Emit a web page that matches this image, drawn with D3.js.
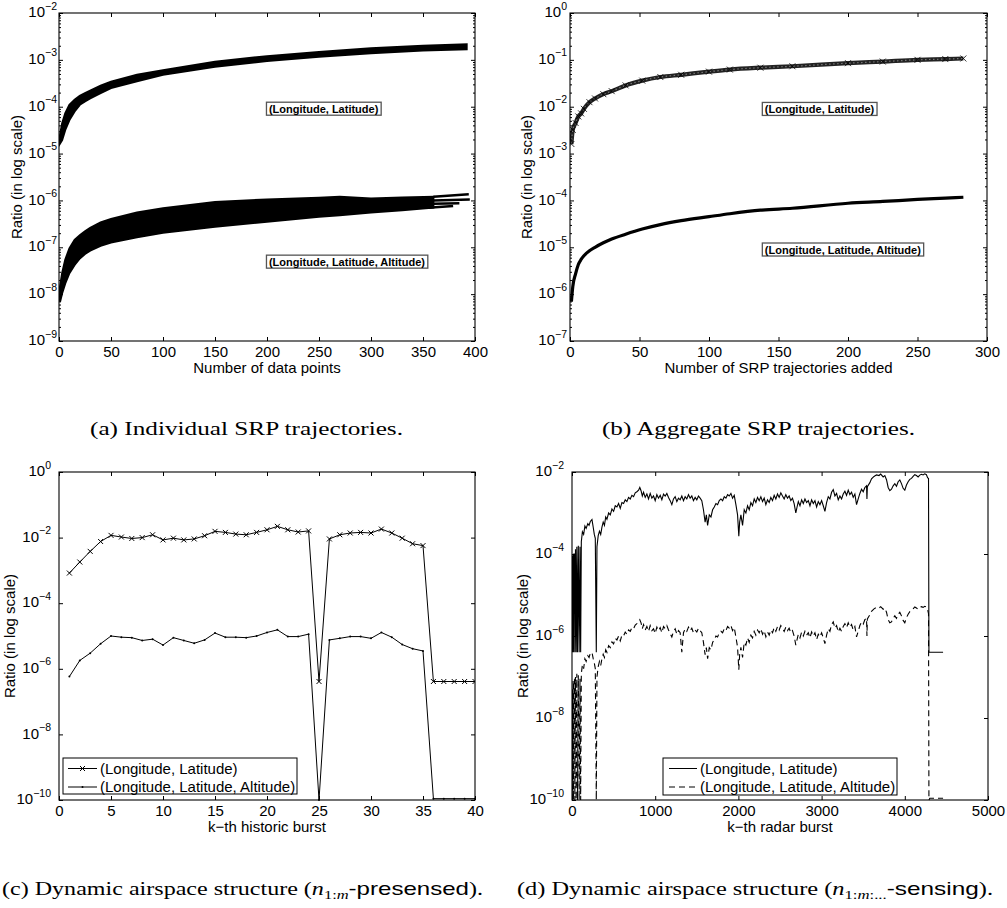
<!DOCTYPE html>
<html><head><meta charset="utf-8">
<script src="https://cdn.jsdelivr.net/npm/d3@7"></script>
<style>body{margin:0;background:#fff}</style>
</head><body>
<script>
// ---------- DATA ----------
// (a) Individual SRP trajectories: envelopes of the bundles of trajectories
const aX_LL = [1,3,6,10,15,20,25,30,40,50,75,100,150,200,250,300,350,392];
const aLL_hi = [2.5e-5,4.4e-5,7.2e-5,1.1e-4,1.4e-4,1.7e-4,1.95e-4,2.2e-4,2.8e-4,3.4e-4,4.8e-4,6e-4,9.1e-4,1.2e-3,1.48e-3,1.77e-3,2.0e-3,2.15e-3];
const aLL_lo = [1.65e-5,1.95e-5,3.2e-5,5.2e-5,7.9e-5,1.1e-4,1.3e-4,1.5e-4,1.95e-4,2.5e-4,3.5e-4,4.8e-4,7.1e-4,9.5e-4,1.17e-3,1.38e-3,1.58e-3,1.69e-3];
const aX_LLA = [1,3,6,10,15,20,25,30,40,50,75,100,150,200,250,270,300,330,360];
const aLLA_hi = [1.45e-8,2.8e-8,5.4e-8,9.5e-8,1.44e-7,1.8e-7,2.2e-7,2.6e-7,3.4e-7,4e-7,5.5e-7,6.8e-7,9.3e-7,1.05e-6,1.14e-6,1.2e-6,1.1e-6,1.15e-6,1.2e-6];
const aLLA_lo = [6.9e-9,1.05e-8,1.7e-8,2.8e-8,4.2e-8,5.8e-8,7.2e-8,8.5e-8,1.07e-7,1.26e-7,1.63e-7,2.05e-7,2.75e-7,3.5e-7,4.5e-7,4.8e-7,5.5e-7,6.2e-7,7e-7];
const aTailX = [[360,394],[360,395],[360,385],[355,379]];
const aTailY = [[1.2e-6,1.35e-6],[1.0e-6,1.05e-6],[8.5e-7,8.7e-7],[7.0e-7,7.6e-7]];
const aXTicks = [0,50,100,150,200,250,300,350,400];
const aYTicks = [1e-9,1e-8,1e-7,1e-6,1e-5,1e-4,1e-3,1e-2];

// (b) Aggregate SRP trajectories
const bX = [1,2,4,6,8,10,14,18,24,30,40,52,65,80,100,115,137,160,200,225,250,270,283];
const bLL = [1.6e-3,3.2e-3,4.5e-3,6.2e-3,7.2e-3,9e-3,1.25e-2,1.5e-2,1.85e-2,2.15e-2,2.85e-2,3.6e-2,4.3e-2,4.8e-2,5.6e-2,6.2e-2,6.8e-2,7.3e-2,8.5e-2,9.2e-2,1e-1,1.04e-1,1.07e-1];
const bLLA = [6.9e-7,1.45e-6,2.7e-6,4.3e-6,5.5e-6,6.6e-6,8.4e-6,1.0e-5,1.25e-5,1.5e-5,1.9e-5,2.45e-5,3.05e-5,3.7e-5,4.5e-5,5.2e-5,6.2e-5,6.8e-5,8.7e-5,9.5e-5,1.05e-4,1.12e-4,1.17e-4];
const bXTicks = [0,50,100,150,200,250,300];
const bYTicks = [1e-7,1e-6,1e-5,1e-4,1e-3,1e-2,1e-1,1];

// (c) Dynamic airspace structure, k-th historic burst
const cK = [1,2,3,4,5,6,7,8,9,10,11,12,13,14,15,16,17,18,19,20,21,22,23,24,25,26,27,28,29,30,31,32,33,34,35,36,37,38,39,40];
const cLL = [8.3e-4,1.8e-3,3.8e-3,7.6e-3,1.17e-2,1.04e-2,9.4e-3,1e-2,1.22e-2,8.5e-3,9.6e-3,8.5e-3,9.1e-3,1.14e-2,1.55e-2,1.44e-2,1.28e-2,1.22e-2,1.44e-2,1.73e-2,2.2e-2,1.73e-2,1.48e-2,1.6e-2,4.1e-7,9.1e-3,1.22e-2,1.38e-2,1.44e-2,1.38e-2,1.82e-2,1.38e-2,9.6e-3,6.5e-3,5.7e-3,4.1e-7,4.1e-7,4.1e-7,4.1e-7,4.1e-7];
const cLLA = [5.8e-7,1.8e-6,3e-6,5.8e-6,1e-5,9.2e-6,8.9e-6,7.3e-6,8e-6,5.3e-6,8.9e-6,7.3e-6,6e-6,7.6e-6,1.23e-5,9.2e-6,9.2e-6,8.9e-6,1e-5,1.28e-5,1.54e-5,9.6e-6,9.6e-6,1.14e-5,1e-10,7.6e-6,8.5e-6,9.6e-6,9.6e-6,8.5e-6,1.28e-5,9.2e-6,5.5e-6,4.1e-6,3.5e-6,1.1e-10,1.1e-10,1.1e-10,1.1e-10,1.1e-10];
const cXTicks = [0,5,10,15,20,25,30,35,40];
const cYTicks = [1e-10,1e-8,1e-6,1e-4,1e-2,1];

// (d) Dynamic airspace structure, k-th radar burst  [k, ratio]
const dLL = [[1,4e-7],[5,9e-5],[9,4e-7],[13,1e-4],[17,4e-7],[22,1e-4],[30,1e-4],[34,4e-7],[42,1.3e-4],[50,4e-7],[58,1.5e-4],[66,4e-7],[76,1.6e-4],[86,4e-7],[96,1.5e-4],[104,4e-7],[112,2e-4],
[125,3.5e-4],[140,3e-4],[155,4.8e-4],[170,4.2e-4],[190,5.5e-4],[205,5e-4],[220,6.2e-4],[240,6.9e-4],[255,4.5e-4],[268,3e-4],[280,2.4e-4],[292,4e-7],[300,1.5e-4],[315,2.8e-4],[330,3.6e-4],[345,3e-4],[360,4.5e-4],[375,6e-4],[390,5e-4],[405,8e-4],[420,7e-4],[440,1e-3],[460,9e-4],[480,1.25e-3],[500,1.1e-3],[520,1.5e-3],[540,1.4e-3],[560,1.7e-3],[580,1.3e-3],[600,1.8e-3],[620,1.7e-3],[640,2.1e-3],[660,1.9e-3],[680,2.4e-3],[700,2.2e-3],[720,2.7e-3],[740,2.5e-3],[760,3.1e-3],[780,3.3e-3],[800,3.6e-3],[815,4.2e-3],[830,3.5e-3],[845,2.6e-3],[860,3.2e-3],[880,2.4e-3],[900,2.9e-3],[920,2.2e-3],[940,3.0e-3],[960,2.3e-3],[980,2.6e-3],[1000,2.0e-3],[1020,2.8e-3],[1040,2.3e-3],[1060,2.7e-3],[1080,2.1e-3],[1100,2.9e-3],[1120,2.6e-3],[1140,3.0e-3],[1160,2.4e-3],[1180,2.0e-3],[1200,1.6e-3],[1220,2.2e-3],[1240,2.5e-3],[1260,1.9e-3],[1280,2.3e-3],[1300,2.1e-3],[1320,2.6e-3],[1340,2.0e-3],[1360,2.5e-3],[1380,2.2e-3],[1400,2.8e-3],[1420,2.3e-3],[1440,2.6e-3],[1460,2.0e-3],[1480,2.4e-3],[1500,2.1e-3],[1520,2.6e-3],[1540,2.3e-3],[1560,2.0e-3],[1580,1.2e-3],[1600,6e-4],[1615,9e-4],[1630,5e-4],[1650,9e-4],[1670,8e-4],[1690,1.2e-3],[1710,1.4e-3],[1730,1.7e-3],[1750,1.6e-3],[1770,2.0e-3],[1790,2.2e-3],[1810,2.0e-3],[1830,2.5e-3],[1850,2.3e-3],[1870,2.8e-3],[1890,2.6e-3],[1910,3.0e-3],[1930,2.3e-3],[1950,2.7e-3],[1970,1.6e-3],[1990,9e-4],[2005,2.7e-4],[2015,6e-4],[2030,9e-4],[2050,5e-4],[2070,1.2e-3],[2090,1.0e-3],[2110,1.5e-3],[2130,1.2e-3],[2150,1.8e-3],[2170,1.5e-3],[2190,2.2e-3],[2210,1.8e-3],[2230,2.4e-3],[2250,2.0e-3],[2270,2.5e-3],[2290,1.9e-3],[2310,2.3e-3],[2330,1.6e-3],[2350,2.1e-3],[2370,1.8e-3],[2390,2.4e-3],[2410,2.0e-3],[2430,2.7e-3],[2450,2.2e-3],[2470,2.9e-3],[2490,2.4e-3],[2510,3.1e-3],[2530,2.6e-3],[2550,2.2e-3],[2570,2.8e-3],[2590,2.3e-3],[2610,2.6e-3],[2630,2.0e-3],[2650,2.3e-3],[2670,1.7e-3],[2690,1.0e-3],[2705,1.4e-3],[2720,1.9e-3],[2740,1.5e-3],[2760,2.1e-3],[2780,1.7e-3],[2800,2.2e-3],[2820,1.8e-3],[2840,2.0e-3],[2860,1.5e-3],[2880,2.1e-3],[2900,1.7e-3],[2920,2.0e-3],[2940,1.4e-3],[2960,1.9e-3],[2980,1.6e-3],[3000,2.0e-3],[3020,1.5e-3],[3040,1.1e-3],[3060,1.8e-3],[3080,2.5e-3],[3100,2.2e-3],[3120,3.2e-3],[3140,3.7e-3],[3160,2.6e-3],[3180,3.0e-3],[3200,2.1e-3],[3220,2.6e-3],[3240,2.2e-3],[3260,2.9e-3],[3280,3.4e-3],[3300,2.7e-3],[3320,3.6e-3],[3340,2.8e-3],[3360,3.2e-3],[3380,2.4e-3],[3400,2.9e-3],[3420,1.6e-3],[3440,2.2e-3],[3460,3.0e-3],[3480,3.8e-3],[3500,3.3e-3],[3520,4.2e-3],[3540,4.6e-3],[3545,2.2e-3],[3550,4.4e-3],[3580,5.5e-3],[3600,6.8e-3],[3630,7.8e-3],[3660,8.5e-3],[3690,8.2e-3],[3710,8.9e-3],[3740,7.6e-3],[3760,8.2e-3],[3780,6.5e-3],[3800,4.2e-3],[3820,3.5e-3],[3840,3.8e-3],[3860,4.6e-3],[3880,5.2e-3],[3900,4.5e-3],[3920,5.8e-3],[3940,6.4e-3],[3960,5.2e-3],[3980,4.0e-3],[4000,3.6e-3],[4020,4.8e-3],[4040,5.8e-3],[4060,6.6e-3],[4080,7.0e-3],[4100,7.8e-3],[4120,8.6e-3],[4140,8.2e-3],[4160,7.6e-3],[4180,8.4e-3],[4200,8.8e-3],[4220,8.5e-3],[4240,9.0e-3],[4260,8.6e-3],[4275,7.2e-3],[4285,7.0e-3],[4290,4e-7],[4460,4e-7]];
const dLLA = [[1,1e-10],[5,5e-8],[9,1e-10],[13,8e-8],[17,1e-10],[22,6e-8],[30,9e-8],[34,1e-10],[42,1e-7],[50,1e-10],[58,1.2e-7],[66,1e-10],[76,1.1e-7],[86,1e-10],[96,9e-8],[104,1e-10],[112,1.2e-7],
[125,2e-7],[140,1.6e-7],[155,2.8e-7],[170,2.4e-7],[190,3.3e-7],[205,3e-7],[220,3.8e-7],[240,4e-7],[255,2.8e-7],[268,2.2e-7],[280,1.6e-7],[292,1e-10],[300,1e-7],[315,1.8e-7],[330,2.4e-7],[345,1.9e-7],[360,2.8e-7],[375,3.6e-7],[390,3e-7],[405,4.6e-7],[420,4e-7],[440,5.8e-7],[460,5.2e-7],[480,7.2e-7],[500,6.4e-7],[520,8.8e-7],[540,8e-7],[560,1.0e-6],[580,7.6e-7],[600,1.05e-6],[620,1.0e-6],[640,1.25e-6],[660,1.1e-6],[680,1.4e-6],[700,1.3e-6],[720,1.6e-6],[740,1.5e-6],[760,1.85e-6],[780,2.0e-6],[800,2.2e-6],[815,2.5e-6],[830,2.1e-6],[845,1.5e-6],[860,1.9e-6],[880,1.4e-6],[900,1.7e-6],[920,1.3e-6],[940,1.8e-6],[960,1.35e-6],[980,1.5e-6],[1000,1.15e-6],[1020,1.65e-6],[1040,1.35e-6],[1060,1.6e-6],[1080,1.2e-6],[1100,1.7e-6],[1120,1.5e-6],[1140,1.8e-6],[1160,1.4e-6],[1180,1.15e-6],[1200,9.5e-7],[1220,1.3e-6],[1240,1.5e-6],[1260,1.1e-6],[1280,1.35e-6],[1300,1.2e-6],[1320,4e-7],[1330,7e-7],[1340,1.2e-6],[1360,1.5e-6],[1380,1.3e-6],[1400,1.65e-6],[1420,1.35e-6],[1440,1.55e-6],[1460,1.2e-6],[1480,1.4e-6],[1500,1.25e-6],[1520,1.55e-6],[1540,1.35e-6],[1560,1.2e-6],[1580,7e-7],[1600,3.5e-7],[1615,5.2e-7],[1630,2.8e-7],[1650,5.2e-7],[1670,4.6e-7],[1690,7e-7],[1710,8.2e-7],[1730,1.0e-6],[1750,9.5e-7],[1770,1.2e-6],[1790,1.3e-6],[1810,1.2e-6],[1830,1.5e-6],[1850,1.35e-6],[1870,1.7e-6],[1890,1.55e-6],[1910,1.8e-6],[1930,1.35e-6],[1950,1.6e-6],[1970,9.5e-7],[1990,5.3e-7],[2005,1.5e-7],[2015,3.5e-7],[2030,5.3e-7],[2050,3e-7],[2070,7e-7],[2090,6e-7],[2110,9e-7],[2130,7e-7],[2150,1.05e-6],[2170,9e-7],[2190,1.3e-6],[2210,1.05e-6],[2230,1.4e-6],[2250,1.2e-6],[2270,1.5e-6],[2290,1.1e-6],[2310,1.35e-6],[2330,9.5e-7],[2350,1.25e-6],[2370,1.05e-6],[2390,1.4e-6],[2410,1.2e-6],[2430,1.6e-6],[2450,1.3e-6],[2470,1.7e-6],[2490,1.4e-6],[2510,1.8e-6],[2530,1.55e-6],[2550,1.3e-6],[2570,1.65e-6],[2590,1.35e-6],[2610,1.55e-6],[2630,1.2e-6],[2650,1.35e-6],[2670,1.0e-6],[2690,6e-7],[2705,8.2e-7],[2720,1.1e-6],[2740,9e-7],[2760,1.25e-6],[2780,1.0e-6],[2800,1.3e-6],[2820,1.05e-6],[2840,1.2e-6],[2860,9e-7],[2880,1.25e-6],[2900,1.0e-6],[2920,1.2e-6],[2940,8.2e-7],[2960,1.1e-6],[2980,9.5e-7],[3000,1.2e-6],[3020,9e-7],[3040,6.5e-7],[3060,1.05e-6],[3080,1.5e-6],[3100,1.3e-6],[3120,1.9e-6],[3140,2.2e-6],[3160,1.55e-6],[3180,1.8e-6],[3200,1.25e-6],[3220,1.55e-6],[3240,1.3e-6],[3260,1.7e-6],[3280,2.0e-6],[3300,1.6e-6],[3320,2.1e-6],[3340,1.65e-6],[3360,1.9e-6],[3380,1.4e-6],[3400,1.7e-6],[3420,9.5e-7],[3440,1.3e-6],[3460,1.8e-6],[3480,2.2e-6],[3500,1.95e-6],[3520,2.5e-6],[3540,2.7e-6],[3545,1.0e-6],[3550,2.6e-6],[3580,3.3e-6],[3600,4.0e-6],[3630,4.6e-6],[3660,5.0e-6],[3690,4.8e-6],[3710,5.2e-6],[3740,4.5e-6],[3760,4.8e-6],[3780,3.8e-6],[3800,2.5e-6],[3820,2.1e-6],[3840,2.2e-6],[3860,2.7e-6],[3880,3.1e-6],[3900,2.7e-6],[3920,3.4e-6],[3940,3.8e-6],[3960,3.1e-6],[3980,2.4e-6],[4000,2.1e-6],[4020,2.8e-6],[4040,3.4e-6],[4060,3.9e-6],[4080,4.1e-6],[4100,4.6e-6],[4120,5.1e-6],[4140,4.8e-6],[4160,4.5e-6],[4180,5.0e-6],[4200,5.2e-6],[4220,5.0e-6],[4240,5.3e-6],[4260,5.1e-6],[4275,4.3e-6],[4285,3.5e-6],[4290,1e-10],[4300,1.1e-10],[4460,1.1e-10]];
const dXTicks = [0,1000,2000,3000,4000,5000];
const dYTicks = [1e-10,1e-8,1e-6,1e-4,1e-2];

const seriesNames = ["(Longitude, Latitude)", "(Longitude, Latitude, Altitude)"];

// ---------- DRAWING ----------
const SANS = "'Liberation Sans', Arial, Helvetica, sans-serif";
const SERIF = "'Liberation Serif', 'DejaVu Serif', serif";
const svg = d3.select("body").append("svg").attr("width",1007).attr("height",908)
  .style("background","#fff");

function panel(o){
  const g = svg.append("g").attr("transform",`translate(${o.L},${o.T})`);
  const w = o.R-o.L, h = o.B-o.T;
  const x = d3.scaleLinear().domain(o.xDomain).range([0,w]);
  const y = d3.scaleLog().domain(o.yDomain).range([h,0]);
  const id = "clip"+o.name;
  g.append("clipPath").attr("id",id).append("rect").attr("x",0).attr("y",-1).attr("width",w).attr("height",h+2);
  const plot = g.append("g").attr("clip-path",`url(#${id})`);
  const ax = g.append("g");
  const tick = 4;
  const fmtStyle = s => s.attr("font-family",SANS).attr("font-size",15).attr("fill","#000");
  const gb = ax.append("g").attr("transform",`translate(0,${h})`)
    .call(d3.axisBottom(x).tickValues(o.xTicks).tickSize(-tick).tickSizeOuter(0).tickPadding(5).tickFormat(d3.format("d")));
  gb.selectAll("text").call(fmtStyle);
  ax.append("g").call(d3.axisTop(x).tickValues(o.xTicks).tickSize(-tick).tickSizeOuter(0).tickFormat(""));
  const gl = ax.append("g").call(d3.axisLeft(y).tickValues(o.yTicks).tickSize(-tick).tickSizeOuter(0).tickPadding(o.labGap).tickFormat(""));
  gl.selectAll(".tick text").each(function(d){
    const t = d3.select(this).attr("font-family",SANS).attr("fill","#000").attr("dy","0.36em");
    t.append("tspan").attr("font-size",15).text("10");
    const e = Math.round(Math.log10(d));
    t.append("tspan").attr("font-size",10.5).attr("dy",-7.5).text(e<0 ? "\u2212"+(-e) : String(e));
  });
  ax.append("g").attr("transform",`translate(${w},0)`)
    .call(d3.axisRight(y).tickValues(o.yTicks).tickSize(-tick).tickSizeOuter(0).tickFormat(""));
  if(o.minor){
    const mins = [];
    const lo = Math.round(Math.log10(o.yDomain[0])), hi = Math.round(Math.log10(o.yDomain[1]));
    for(let e=lo;e<hi;e++) for(let m=2;m<=9;m++) mins.push(m*Math.pow(10,e));
    ax.append("g").call(d3.axisLeft(y).tickValues(mins).tickSize(-2).tickSizeOuter(0).tickFormat(""));
    ax.append("g").attr("transform",`translate(${w},0)`).call(d3.axisRight(y).tickValues(mins).tickSize(-2).tickSizeOuter(0).tickFormat(""));
  }
  ax.selectAll(".domain").remove();
  ax.selectAll(".tick line").attr("stroke","#000").attr("stroke-width",1);
  g.append("rect").attr("x",0).attr("y",0).attr("width",w).attr("height",h)
    .attr("fill","none").attr("stroke","#000").attr("stroke-width",1.1);
  g.append("text").attr("x",w/2).attr("y",h+o.xlabDy).attr("text-anchor","middle")
    .attr("font-family",SANS).attr("font-size",15).text(o.xlab);
  g.append("text").attr("transform",`translate(${o.ylabX - o.L},${h/2}) rotate(-90)`)
    .attr("text-anchor","middle").attr("dy","0.35em")
    .attr("font-family",SANS).attr("font-size",15).text("Ratio (in log scale)");
  return {g, plot, x, y, w, h};
}

function boxLabel(p, xv, yv, txt){
  const bg = p.g.append("g");
  const r = bg.append("rect");
  const t = bg.append("text").attr("x",p.x(xv)+3).attr("y",p.y(yv)).attr("dy","0.35em")
    .attr("font-family",SANS).attr("font-weight","bold").attr("font-size",11).text(txt);
  const bb = t.node().getBBox();
  r.attr("x",bb.x-2.5).attr("y",bb.y-0.5).attr("width",bb.width+5).attr("height",bb.height+1)
    .attr("fill","#fff").attr("stroke","#555").attr("stroke-width",1.3);
}

// ----- (a)
const pa = panel({name:"a",L:59,R:475,T:13,B:341,xDomain:[0,400],yDomain:[1e-9,1e-2],xTicks:aXTicks,yTicks:aYTicks,
  labGap:2,minor:true,xlab:"Number of data points",xlabDy:32,ylabX:17});
const bandArea = (xs,lo,hi) => d3.area().x((d,i)=>pa.x(xs[i])).y0((d,i)=>pa.y(lo[i])).y1((d,i)=>pa.y(hi[i]))(xs);
pa.plot.append("path").attr("d",bandArea(aX_LL,aLL_lo,aLL_hi)).attr("fill","#000").attr("stroke","#000").attr("stroke-width",2);
pa.plot.append("path").attr("d",bandArea(aX_LLA,aLLA_lo,aLLA_hi)).attr("fill","#000").attr("stroke","#000").attr("stroke-width",2);
aTailX.forEach((xs,i)=>{
  pa.plot.append("path").attr("d",d3.line()(xs.map((xv,j)=>[pa.x(xv),pa.y(aTailY[i][j])])))
    .attr("stroke","#000").attr("stroke-width",2.4).attr("fill","none");
});
boxLabel(pa,199,9e-5,seriesNames[0]);
boxLabel(pa,199,4.9e-8,seriesNames[1]);

// ----- (b)
const pb = panel({name:"b",L:570,R:987,T:13,B:341,xDomain:[0,300],yDomain:[1e-7,1],xTicks:bXTicks,yTicks:bYTicks,
  labGap:3,minor:true,xlab:"Number of SRP trajectories added",xlabDy:32,ylabX:527});
const lineB = vals => d3.line().curve(d3.curveMonotoneX).x((d,i)=>pb.x(bX[i])).y((d,i)=>pb.y(vals[i]))(bX);
pb.plot.append("path").attr("d",lineB(bLL)).attr("fill","none").attr("stroke","#222").attr("stroke-width",4.2);
pb.plot.append("path").attr("d",lineB(bLL)).attr("fill","none").attr("stroke","#777").attr("stroke-width",1.2).attr("stroke-dasharray","1.5 2.5");
pb.plot.selectAll(".bm").data(bX).join("path")
  .attr("d",(d,i)=>{const cx=pb.x(d),cy=pb.y(bLL[i]);return `M${cx-3},${cy-3}L${cx+3},${cy+3}M${cx-3},${cy+3}L${cx+3},${cy-3}`;})
  .attr("stroke","#000").attr("stroke-width",0.8);
pb.plot.append("path").attr("d",lineB(bLLA)).attr("fill","none").attr("stroke","#000").attr("stroke-width",3.2);
boxLabel(pb,138,8.9e-3,seriesNames[0]);
boxLabel(pb,138,8.9e-6,seriesNames[1]);

// ----- (c)
const pc = panel({name:"c",L:59,R:475,T:472,B:800,xDomain:[0,40],yDomain:[1e-10,1],xTicks:cXTicks,yTicks:cYTicks,
  labGap:8,minor:false,xlab:"k\u2212th historic burst",xlabDy:32,ylabX:10});
const lineC = vals => d3.line().x((d,i)=>pc.x(cK[i])).y((d,i)=>pc.y(vals[i]))(cK);
pc.plot.append("path").attr("d",lineC(cLL)).attr("fill","none").attr("stroke","#000").attr("stroke-width",1);
pc.plot.append("path").attr("d",lineC(cLLA)).attr("fill","none").attr("stroke","#000").attr("stroke-width",1);
const xMark = (cx,cy,s)=>`M${cx-s},${cy-s}L${cx+s},${cy+s}M${cx-s},${cy+s}L${cx+s},${cy-s}`;
pc.plot.selectAll(".cm").data(cK).join("path").attr("d",(d,i)=>xMark(pc.x(d),pc.y(cLL[i]),2.5))
  .attr("stroke","#000").attr("stroke-width",1);
pc.plot.selectAll(".cd").data(cK).join("circle").attr("cx",d=>pc.x(d)).attr("cy",(d,i)=>pc.y(cLLA[i])).attr("r",1).attr("fill","#000");
{
  const lg = pc.g.append("g").attr("transform",`translate(${63-59},${758-472})`);
  lg.append("rect").attr("width",234).attr("height",36).attr("fill","#fff").attr("stroke","#000").attr("stroke-width",1);
  [0,1].forEach(i=>{
    const yy = 10.5 + i*18.5;
    lg.append("line").attr("x1",5).attr("x2",34).attr("y1",yy).attr("y2",yy).attr("stroke","#000");
    if(i===0) lg.append("path").attr("d",xMark(19.5,yy,2.5)).attr("stroke","#000");
    else lg.append("circle").attr("cx",19.5).attr("cy",yy).attr("r",1).attr("fill","#000");
    lg.append("text").attr("x",37).attr("y",yy).attr("dy","0.35em").attr("font-family",SANS).attr("font-size",15).text(seriesNames[i]);
  });
}

// ----- (d)
const pd = panel({name:"d",L:572,R:988,T:472,B:800,xDomain:[0,5000],yDomain:[1e-10,1e-2],xTicks:dXTicks,yTicks:dYTicks,
  labGap:8,minor:false,xlab:"k\u2212th radar burst",xlabDy:32,ylabX:523});
const lineD = d3.line().x(d=>pd.x(d[0])).y(d=>pd.y(d[1]));
pd.plot.append("path").attr("d",lineD(dLL)).attr("fill","none").attr("stroke","#000").attr("stroke-width",1.1);
pd.plot.append("path").attr("d",lineD(dLLA)).attr("fill","none").attr("stroke","#000").attr("stroke-width",1.1).attr("stroke-dasharray","6 4");
{
  const lg = pd.g.append("g").attr("transform",`translate(${663-572},${758-472})`);
  lg.append("rect").attr("width",234).attr("height",37).attr("fill","#fff").attr("stroke","#000").attr("stroke-width",1);
  [0,1].forEach(i=>{
    const yy = 10.5 + i*18.5;
    lg.append("line").attr("x1",6).attr("x2",34).attr("y1",yy).attr("y2",yy).attr("stroke","#000")
      .attr("stroke-dasharray", i ? "6 4" : null);
    lg.append("text").attr("x",37).attr("y",yy).attr("dy","0.35em").attr("font-family",SANS).attr("font-size",15).text(seriesNames[i]);
  });
}

// ---------- CAPTIONS ----------
function caption(x, y, len, parts){
  const t = svg.append("text").attr("x",x).attr("y",y).attr("textLength",len).attr("lengthAdjust","spacingAndGlyphs")
    .attr("font-family",SERIF).attr("font-size",19).attr("fill","#000");
  parts.forEach(p=>{
    const s = t.append("tspan").text(p.t);
    if(p.f) s.attr("font-family",p.f);
    if(p.it) s.attr("font-style","italic");
    if(p.fs) s.attr("font-size",p.fs);
    if(p.dy) s.attr("dy",p.dy);
  });
}
caption(90,435,313,[{t:"(a) Individual SRP trajectories."}]);
caption(602,435,313,[{t:"(b) Aggregate SRP trajectories."}]);
caption(2,895,481,[{t:"(c) Dynamic airspace structure ("},{t:"n",it:1},{t:"1:",fs:13,dy:4},{t:"m",it:1,fs:13},
  {t:"-presensed",f:SANS,dy:-4},{t:")."}]);
caption(517,895,476,[{t:"(d) Dynamic airspace structure ("},{t:"n",it:1},{t:"1:",fs:13,dy:4},{t:"m",it:1,fs:13},{t:":...",fs:13},
  {t:"-sensing",f:SANS,dy:-4},{t:")."}]);
</script>
</body></html>
